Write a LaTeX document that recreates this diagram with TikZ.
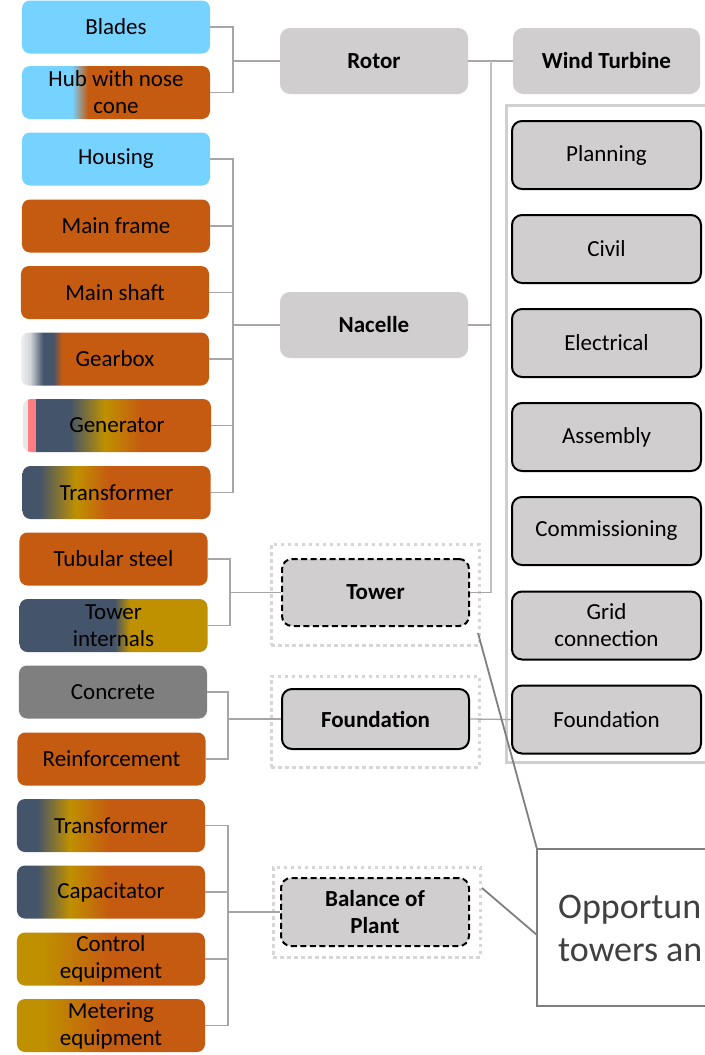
\documentclass[tikz,border=0pt]{standalone}
\usepackage{fontspec}
\setmainfont{Carlito}
\definecolor{lblue}{HTML}{76D3FF}
\definecolor{orng}{HTML}{C55A11}
\definecolor{slate}{HTML}{44546A}
\definecolor{gold}{HTML}{BF9000}
\definecolor{salmon}{HTML}{FF7C80}
\definecolor{lgray}{HTML}{E8E8E8}
\definecolor{wgray}{HTML}{F0F0F0}
\definecolor{mgray}{HTML}{D3D6DB}
\definecolor{concrete}{HTML}{7F7F7F}
\definecolor{boxgray}{HTML}{D0CECE}
\definecolor{linegray}{HTML}{A6A6A6}
\definecolor{vgray}{HTML}{BFBFBF}
\definecolor{framegray}{HTML}{CFCFCF}
\definecolor{dotgray}{HTML}{D6D6D6}
\definecolor{callgray}{HTML}{7F7F7F}
\definecolor{txtgray}{HTML}{404040}
% horizontal shadings: visible part 25bp..75bp maps to box left..right
\pgfdeclarehorizontalshading{hubsh}{100bp}{color(0bp)=(lblue); color(38.3bp)=(lblue); color(42.55bp)=(orng); color(100bp)=(orng)}
\pgfdeclarehorizontalshading{gearsh}{100bp}{color(0bp)=(wgray); color(25bp)=(wgray); color(27.4bp)=(mgray); color(30.9bp)=(slate); color(33.5bp)=(slate); color(35.9bp)=(orng); color(100bp)=(orng)}
\pgfdeclarehorizontalshading{gensh}{100bp}{color(0bp)=(lgray); color(26.25bp)=(lgray); color(26.3bp)=(salmon); color(28.4bp)=(salmon); color(28.45bp)=(slate); color(37.5bp)=(slate); color(46.8bp)=(gold); color(56.6bp)=(orng); color(100bp)=(orng)}
\pgfdeclarehorizontalshading{trafosh}{100bp}{color(0bp)=(slate); color(29.5bp)=(slate); color(39.4bp)=(gold); color(48.1bp)=(orng); color(100bp)=(orng)}
\pgfdeclarehorizontalshading{towintsh}{100bp}{color(0bp)=(slate); color(50.3bp)=(slate); color(54.3bp)=(gold); color(100bp)=(gold)}
\pgfdeclarehorizontalshading{bopsh}{100bp}{color(0bp)=(slate); color(30.3bp)=(slate); color(39.1bp)=(gold); color(49.7bp)=(orng); color(100bp)=(orng)}
\pgfdeclarehorizontalshading{ctrlsh}{100bp}{color(0bp)=(gold); color(31.9bp)=(gold); color(49.7bp)=(orng); color(100bp)=(orng)}
\tikzset{
  part/.style={rounded corners=8bp, minimum width=188bp, minimum height=53bp, inner sep=1bp,
    align=center, font=\fontsize{23bp}{27bp}\selectfont, text=black},
  group/.style={rounded corners=10bp, fill=boxgray, minimum width=188bp, minimum height=66bp,
    inner sep=1bp, align=center, font=\fontsize{23bp}{27bp}\selectfont\bfseries, text=black},
  stage/.style={rounded corners=10bp, fill=boxgray, draw=black, line width=2bp, minimum width=189bp,
    minimum height=68bp, inner sep=1bp, align=center, font=\fontsize{23bp}{27bp}\selectfont, text=black},
  dashbox/.style={draw=black, line width=2bp, dash pattern=on 6bp off 3.5bp},
  solidbox/.style={draw=black, line width=2bp},
  dotframe/.style={draw=dotgray, line width=3bp, dash pattern=on 3.5bp off 3.5bp, rectangle, inner sep=0pt, outer sep=0pt},
  conn/.style={draw=linegray, line width=1.3bp},
  trunk/.style={draw=vgray, line width=2bp},
  callline/.style={draw=callgray, line width=1.8bp},
  calltext/.style={anchor=base west, inner sep=0pt, text=txtgray, font=\fontsize{36bp}{40bp}\selectfont},
}
\begin{document}
\begin{tikzpicture}[x=1bp, y=-1bp]
\clip (0,0) rectangle (705,1055);
\fill[white] (0,0) rectangle (705,1055);

% ---------- left column: parts ----------
\node[part, fill=lblue] (blades) at (116,27) {Blades};
\node[part, shade, shading=hubsh] (hub) at (116,92.5) {Hub with nose\\cone};
\node[part, fill=lblue] (housing) at (116,159) {Housing};
\node[part, fill=orng] (mainframe) at (116,226) {Main frame};
\node[part, fill=orng] (mainshaft) at (115,292.5) {Main shaft};
\node[part, shade, shading=gearsh] (gearbox) at (115,359) {Gearbox};
\node[part, shade, shading=gensh] (generator) at (117,425.5) {Generator};
\node[part, shade, shading=trafosh] (trafoA) at (116.5,492.5) {Transformer};
\node[part, fill=orng] (tubular) at (113.5,559) {Tubular steel};
\node[part, shade, shading=towintsh] (towint) at (113.5,625.5) {Tower\\internals};
\node[part, fill=concrete] (concrete) at (113,692) {Concrete};
\node[part, fill=orng] (reinf) at (111.5,759) {Reinforcement};
\node[part, shade, shading=bopsh] (trafoB) at (111,825.5) {Transformer};
\node[part, shade, shading=bopsh] (capac) at (111,892) {Capacitator};
\node[part, shade, shading=ctrlsh] (control) at (111,959) {Control\\equipment};
\node[part, shade, shading=ctrlsh] (meter) at (111,1025.5) {Metering\\equipment};

% ---------- middle column ----------
\node[dotframe, minimum width=208bp, minimum height=101bp] (towerfr) at (375,594.5) {};
\node[dotframe, minimum width=208bp, minimum height=91bp] (foundfr) at (375,721.5) {};
\node[dotframe, minimum width=207bp, minimum height=90bp] (bopfr) at (376.5,912) {};

\node[group] (rotor) at (374,61) {Rotor};
\node[group] (nacelle) at (374,325) {Nacelle};
\node[group, dashbox, minimum width=187bp, minimum height=67bp] (tower) at (375.5,592.5) {Tower};
\node[group, solidbox, minimum width=187bp, minimum height=60bp] (found) at (375.5,719) {Foundation};
\node[group, dashbox, minimum width=188bp, minimum height=68bp] (bop) at (375,912) {Balance of\\Plant};

% ---------- right column ----------
\node[group, minimum width=187bp] (wt) at (606.5,61) {Wind Turbine};
\draw[framegray, line width=3bp] (506,105) rectangle (725,762);
\node[stage] (planning) at (606.5,155) {Planning};
\node[stage] (civil) at (606.5,249) {Civil};
\node[stage] (electrical) at (606.5,343) {Electrical};
\node[stage] (assembly) at (606.5,437) {Assembly};
\node[stage] (commiss) at (606.5,531) {Commissioning};
\node[stage] (grid) at (606.5,625.5) {Grid\\connection};
\node[stage] (rfound) at (606.5,719.5) {Foundation};

% ---------- brackets ----------
\coordinate (rb) at (233,61);
\draw[conn] (blades.east) -| (rb) |- (hub.east);
\draw[conn] (rb) -- (rotor.west);

\coordinate (nb) at (233,325);
\draw[conn] (housing.east) -| (nb) |- (trafoA.east);
\draw[conn] (mainframe.east) -- (mainframe.east -| nb);
\draw[conn] (mainshaft.east) -- (mainshaft.east -| nb);
\draw[conn] (gearbox.east) -- (gearbox.east -| nb);
\draw[conn] (generator.east) -- (generator.east -| nb);
\draw[conn] (nb) -- (nacelle.west);

\coordinate (tb) at (230,592.5);
\draw[conn] (tubular.east) -| (tb) |- (towint.east);
\draw[conn] (tb) -- (tower.west);

\coordinate (fb) at (228,719);
\draw[conn] (concrete.east) -| (fb) |- (reinf.east);
\draw[conn] (fb) -- (found.west);

\coordinate (bb) at (228,912);
\draw[conn] (trafoB.east) -| (bb) |- (meter.east);
\draw[conn] (capac.east) -- (capac.east -| bb);
\draw[conn] (control.east) -- (control.east -| bb);
\draw[conn] (bb) -- (bop.west);

% ---------- trunk to wind turbine ----------
\coordinate (vt) at (491,61);
\coordinate (vb) at (491,592.5);
\draw[conn] (rotor.east) -- (wt.west);
\draw[trunk] (vt) -- (vb);
\draw[conn] (nacelle.east) -- (nacelle.east -| vt);
\draw[conn] (tower.east) -- (vb);
\draw[conn] (found.east) -- (rfound.west);

% ---------- callout ----------
\node[draw=callgray, line width=2bp, rectangle, inner sep=0pt, outer sep=0pt,
      minimum width=200bp, minimum height=157bp] (callout) at (637,927.5) {};
\node[calltext] (callA) at (558,918) {Opportun};
\node[calltext] (callB) at (558,961) {towers an};
\coordinate (tp) at (478,633);
\coordinate (bp) at (482,888);
\coordinate (cl) at (537,935);
\draw[callline] (tp) -- (callout.north west);
\draw[callline] (bp) -- (cl);
\end{tikzpicture}
\end{document}
